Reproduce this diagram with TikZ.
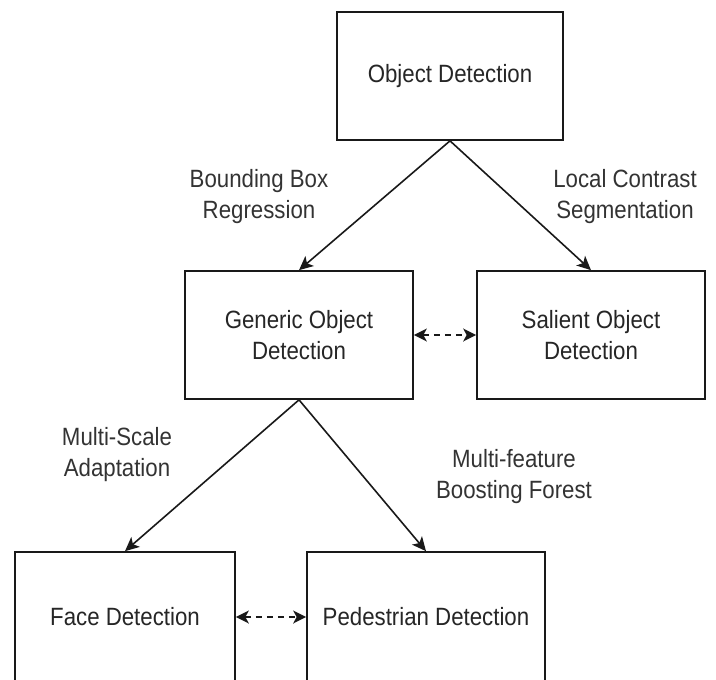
\documentclass[tikz,border=0pt]{standalone}
\usepackage{fontspec}
\setmainfont[FakeStretch=0.89]{Liberation Sans}
\usetikzlibrary{arrows.meta}
\begin{document}
\begin{tikzpicture}[x=1pt,y=-1pt,
  box/.style={draw=black!90, line width=1.7pt, fill=white, inner sep=0pt,
    align=center, text=black!85, font=\fontsize{25}{31}\selectfont},
  lbl/.style={inner sep=0pt, align=center, text=black!80,
    font=\fontsize{25}{31}\selectfont},
  conn/.style={draw=black!90, line width=1.6pt,
    -{Stealth[length=14pt,width=13pt,inset=3.5pt]}},
  link/.style={draw=black!90, line width=1.6pt, dash pattern=on 6pt off 5pt,
    {Stealth[length=13pt,width=13pt,inset=3.5pt]}-{Stealth[length=13pt,width=13pt,inset=3.5pt]}}]
\useasboundingbox (0,0) rectangle (716,680);
\begin{scope}
\clip (0,0) rectangle (716,680);

% boxes
\node[box, minimum width=226pt, minimum height=128pt] (od) at (450,76) {Object Detection};
\node[box, minimum width=228pt, minimum height=128pt] (god) at (299,335) {Generic Object\\Detection};
\node[box, minimum width=228pt, minimum height=128pt] (sod) at (591,335) {Salient Object\\Detection};
\node[box, minimum width=220pt, minimum height=130pt] (fd) at (125,617) {Face Detection};
\node[box, minimum width=238pt, minimum height=130pt] (pd) at (426,617) {Pedestrian Detection};

% edge labels
\node[lbl] (l1) at (259,197) {Bounding Box\\Regression};
\node[lbl] (l2) at (625,197) {Local Contrast\\Segmentation};
\node[lbl] (l3) at (117,455) {Multi-Scale\\Adaptation};
\node[lbl] (l4) at (514,477) {Multi-feature\\Boosting Forest};

% connectors
\draw[conn] (od.south) -- (god.north);
\draw[conn] (od.south) -- (sod.north);
\draw[conn] (god.south) -- (fd.north);
\draw[conn] (god.south) -- (pd.north);
\draw[link] (god.east) -- (sod.west);
\draw[link] (fd.east) -- (pd.west);
\end{scope}
\end{tikzpicture}
\end{document}
